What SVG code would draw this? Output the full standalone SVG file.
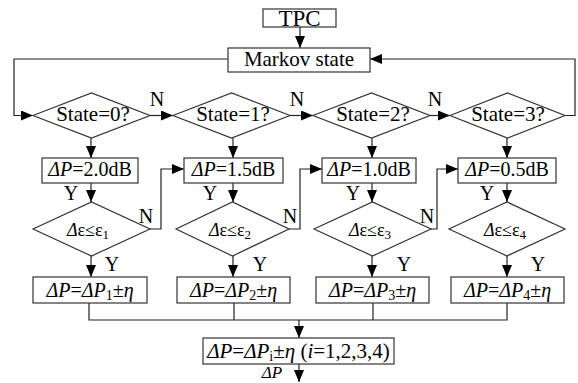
<svg xmlns="http://www.w3.org/2000/svg" width="578" height="383" viewBox="0 0 578 383" font-family="'Liberation Serif', 'DejaVu Serif', 'Times New Roman', Times, serif">
<defs>
<marker id="ah" markerWidth="12" markerHeight="10" refX="12" refY="5" orient="auto" markerUnits="userSpaceOnUse">
<path d="M0,0 L12,5 L0,10 z" fill="#000"/>
</marker>
<style>
.box{fill:#fff;stroke:#333;stroke-width:1.2}
.ln{fill:none;stroke:#222;stroke-width:1.2}
.ar{fill:none;stroke:#222;stroke-width:1.2;marker-end:url(#ah)}
text{font-family:'Liberation Serif','DejaVu Serif','Times New Roman',Times,serif;fill:#000;font-size:20px}
.c{text-anchor:middle}
.i{font-style:italic}
</style>
</defs>
<rect width="578" height="383" fill="#fff"/>
<g id="connectors">
<path class="ar" d="M300,27 V48"/>
<path class="ar" d="M228,59 H14 V115.5 H33"/>
<path class="ar" d="M565,115.5 H575 V59 H370"/>
<path class="ar" d="M150,115.5 H173"/>
<path class="ar" d="M290,115.5 H313"/>
<path class="ar" d="M430,115.5 H450"/>
<path class="ar" d="M91,138 V158"/>
<path class="ar" d="M233,138 V158"/>
<path class="ar" d="M372,138 V158"/>
<path class="ar" d="M507,138 V158"/>
<path class="ar" d="M91,183 V202"/>
<path class="ar" d="M233,183 V202"/>
<path class="ar" d="M372,183 V202"/>
<path class="ar" d="M507,183 V202"/>
<path class="ar" d="M150,229 H161 V169 H184"/>
<path class="ar" d="M289,229 H300 V169 H322"/>
<path class="ar" d="M431,229 H437 V169 H458"/>
<path class="ar" d="M91,256 V277"/>
<path class="ar" d="M233,256 V277"/>
<path class="ar" d="M372,256 V277"/>
<path class="ar" d="M507,256 V277"/>
<path class="ln" d="M89,303 V320 H507 V303 M234,303 V320 M373,303 V320"/>
<path class="ar" d="M299,320 V338"/>
<path class="ar" d="M299,364 V382"/>
<text x="157" y="106" class="c">N</text>
<text x="297" y="106" class="c">N</text>
<text x="435" y="106" class="c">N</text>
<text x="71" y="200" class="c">Y</text>
<text x="210" y="200" class="c">Y</text>
<text x="353" y="200" class="c">Y</text>
<text x="487" y="200" class="c">Y</text>
<text x="146" y="223" class="c">N</text>
<text x="290" y="223" class="c">N</text>
<text x="427" y="223" class="c">N</text>
<text x="112" y="271" class="c">Y</text>
<text x="260" y="271" class="c">Y</text>
<text x="404" y="271" class="c">Y</text>
<text x="538" y="271" class="c">Y</text>
<text x="272" y="378" class="c i" style="font-size:17px">ΔP</text>
</g>
<g id="tpc">
<rect class="box" x="263" y="9" width="73" height="18"/>
<text x="299.5" y="26" class="c" style="font-size:23px">TPC</text>
</g>
<g id="markov">
<rect class="box" x="228" y="48" width="142" height="24"/>
<text x="299" y="66" class="c" style="font-size:21px">Markov state</text>
</g>
<g id="s0">
<polygon class="box" points="33,115.5 91.5,93 150,115.5 91.5,138"/>
<text x="93" y="121" class="c" style="font-size:21px">State=0?</text>
</g>
<g id="s1">
<polygon class="box" points="173,115.5 231.5,93 290,115.5 231.5,138"/>
<text x="233" y="121" class="c" style="font-size:21px">State=1?</text>
</g>
<g id="s2">
<polygon class="box" points="313,115.5 371.5,93 430,115.5 371.5,138"/>
<text x="373" y="121" class="c" style="font-size:21px">State=2?</text>
</g>
<g id="s3">
<polygon class="box" points="450,115.5 507.5,93 565,115.5 507.5,138"/>
<text x="508" y="121" class="c" style="font-size:21px">State=3?</text>
</g>
<g id="p0">
<rect class="box" x="42" y="158" width="96" height="25"/>
<text x="90" y="176" class="c"><tspan class="i">ΔP</tspan>=2.0dB</text>
</g>
<g id="p1">
<rect class="box" x="184" y="158" width="99" height="25"/>
<text x="233.5" y="176" class="c"><tspan class="i">ΔP</tspan>=1.5dB</text>
</g>
<g id="p2">
<rect class="box" x="322" y="158" width="94" height="25"/>
<text x="369" y="176" class="c"><tspan class="i">ΔP</tspan>=1.0dB</text>
</g>
<g id="p3">
<rect class="box" x="458" y="158" width="98" height="25"/>
<text x="507" y="176" class="c"><tspan class="i">ΔP</tspan>=0.5dB</text>
</g>
<g id="d0">
<polygon class="box" points="33,229 91.5,202 150,229 91.5,256"/>
<text x="88" y="236" class="c" style="font-size:18px"><tspan class="i">Δ</tspan>ε≤ε<tspan dy="3" style="font-size:13px">1</tspan></text>
</g>
<g id="d1">
<polygon class="box" points="176,229 232.5,202 289,229 232.5,256"/>
<text x="230" y="236" class="c" style="font-size:18px"><tspan class="i">Δ</tspan>ε≤ε<tspan dy="3" style="font-size:13px">2</tspan></text>
</g>
<g id="d2">
<polygon class="box" points="314,229 372.5,202 431,229 372.5,256"/>
<text x="370" y="236" class="c" style="font-size:18px"><tspan class="i">Δ</tspan>ε≤ε<tspan dy="3" style="font-size:13px">3</tspan></text>
</g>
<g id="d3">
<polygon class="box" points="449,229 507,202 565,229 507,256"/>
<text x="505" y="236" class="c" style="font-size:18px"><tspan class="i">Δ</tspan>ε≤ε<tspan dy="3" style="font-size:13px">4</tspan></text>
</g>
<g id="r0">
<rect class="box" x="33" y="277" width="114" height="26"/>
<text x="90" y="297" class="c"><tspan class="i">ΔP</tspan>=<tspan class="i">ΔP</tspan><tspan dy="3" style="font-size:14px">1</tspan><tspan dy="-3">±</tspan><tspan class="i">η</tspan></text>
</g>
<g id="r1">
<rect class="box" x="177" y="277" width="113" height="26"/>
<text x="233.5" y="297" class="c"><tspan class="i">ΔP</tspan>=<tspan class="i">ΔP</tspan><tspan dy="3" style="font-size:14px">2</tspan><tspan dy="-3">±</tspan><tspan class="i">η</tspan></text>
</g>
<g id="r2">
<rect class="box" x="316" y="277" width="113" height="26"/>
<text x="372.5" y="297" class="c"><tspan class="i">ΔP</tspan>=<tspan class="i">ΔP</tspan><tspan dy="3" style="font-size:14px">3</tspan><tspan dy="-3">±</tspan><tspan class="i">η</tspan></text>
</g>
<g id="r3">
<rect class="box" x="451" y="277" width="113" height="26"/>
<text x="507.5" y="297" class="c"><tspan class="i">ΔP</tspan>=<tspan class="i">ΔP</tspan><tspan dy="3" style="font-size:14px">4</tspan><tspan dy="-3">±</tspan><tspan class="i">η</tspan></text>
</g>
<g id="final">
<rect class="box" x="203" y="338" width="191" height="26"/>
<text x="298.5" y="358" class="c" style="font-size:21px"><tspan class="i">ΔP</tspan>=<tspan class="i">ΔP</tspan><tspan dy="3" style="font-size:14px">i</tspan><tspan dy="-3">±</tspan><tspan class="i">η</tspan> (<tspan class="i">i</tspan>=1,2,3,4)</text>
</g>
</svg>
